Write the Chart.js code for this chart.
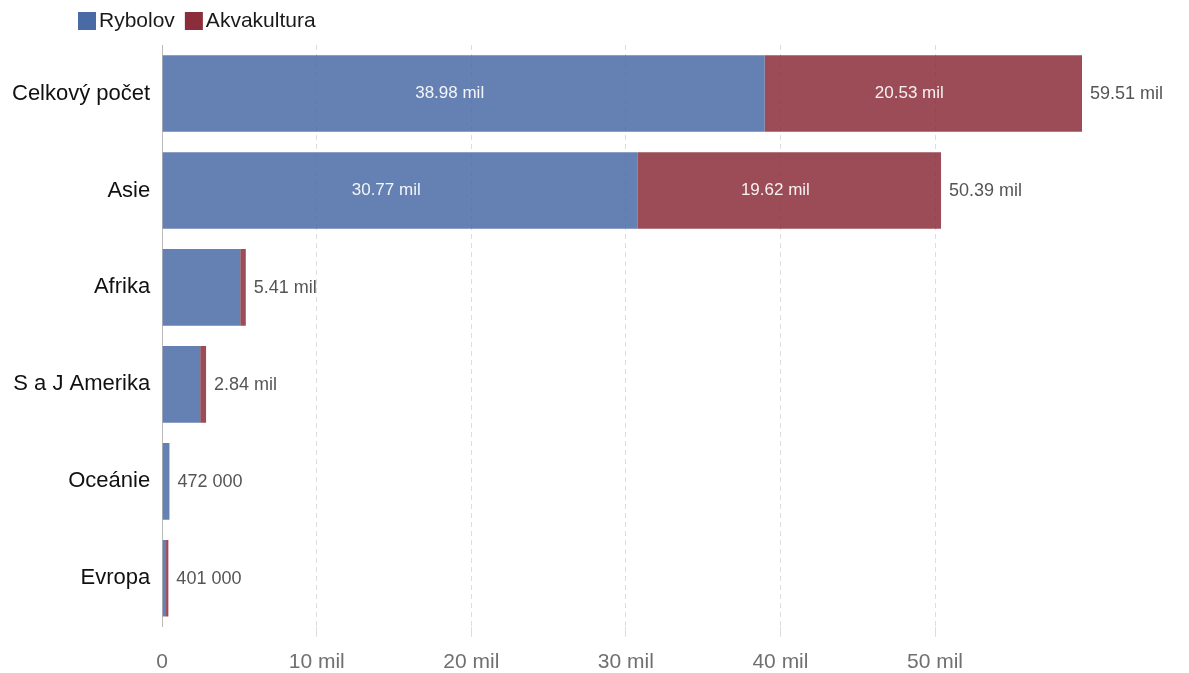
<!DOCTYPE html>
<html>
<head>
<meta charset="utf-8">
<script src="https://cdn.jsdelivr.net/npm/chart.js@4/dist/chart.umd.min.js"></script>
<style>
  html, body { margin: 0; padding: 0; background: #fff; }
  #wrap { width: 1189px; height: 673px; position: relative; }
</style>
</head>
<body>
<div id="wrap"><canvas id="chart"></canvas></div>
<script>
// data (millions)
const regions = ['Celkový počet', 'Asie', 'Afrika', 'S a J Amerika', 'Oceánie', 'Evropa'];
const rybolov = [38.98, 30.77, 5.05, 2.46, 0.462, 0.25];
const akvakultura = [20.53, 19.62, 0.36, 0.38, 0.010, 0.151];
const seriesNames = ['Rybolov', 'Akvakultura'];
const xTicks = [0, 10, 20, 30, 40, 50];

const solidColors = ['#4a6aa5', '#8b2d3a'];
const fillColors = ['rgba(74,106,165,0.85)', 'rgba(139,45,58,0.85)'];
const FONT = 'Arial, "Liberation Sans", Helvetica, sans-serif';

const totals = regions.map((_, i) => Math.round((rybolov[i] + akvakultura[i]) * 1000) / 1000);

function fmt(v) {
  if (v >= 1) return (Math.round(v * 100) / 100).toFixed(2) + ' mil';
  return Math.round(v * 1000) + ' 000';
}

// value labels: totals at bar end, inner values on wide segments
const valueLabels = {
  id: 'valueLabels',
  afterDatasetsDraw(chart) {
    const ctx = chart.ctx;
    const metaA = chart.getDatasetMeta(0);
    const metaB = chart.getDatasetMeta(1);
    ctx.save();
    ctx.textBaseline = 'middle';
    regions.forEach((_, i) => {
      const a = metaA.data[i], b = metaB.data[i];
      [[a, rybolov[i]], [b, akvakultura[i]]].forEach(([el, v]) => {
        const w = Math.abs(el.x - el.base);
        if (w > 120) {
          ctx.font = '17px ' + FONT;
          ctx.fillStyle = 'rgba(255,255,255,0.92)';
          ctx.textAlign = 'center';
          ctx.fillText(fmt(v), (el.x + el.base) / 2 - 14, el.y);
        }
      });
      ctx.font = '18px ' + FONT;
      ctx.fillStyle = '#555555';
      ctx.textAlign = 'left';
      ctx.fillText(fmt(totals[i]), Math.max(a.x, b.x) + 8, b.y + 1);
    });
    ctx.restore();
  }
};

// simple legend at the top left (tight box/text gap like the source)
const topLegend = {
  id: 'topLegend',
  afterDraw(chart) {
    const ctx = chart.ctx;
    ctx.save();
    ctx.font = '21px ' + FONT;
    ctx.textBaseline = 'middle';
    ctx.textAlign = 'left';
    let x = 78;
    const y = 21;
    seriesNames.forEach((name, k) => {
      ctx.fillStyle = solidColors[k];
      ctx.fillRect(x, y - 9, 18, 18);
      x += 18 + 3;
      ctx.fillStyle = '#1a1a1a';
      ctx.fillText(name, x, y);
      x += ctx.measureText(name).width + 10;
    });
    ctx.restore();
  }
};

new Chart(document.getElementById('chart'), {
  type: 'bar',
  data: {
    labels: regions,
    datasets: seriesNames.map((name, k) => ({
      label: name,
      data: k === 0 ? rybolov : akvakultura,
      backgroundColor: fillColors[k],
      borderWidth: 0
    }))
  },
  options: {
    indexAxis: 'y',
    responsive: true,
    maintainAspectRatio: false,
    animation: false,
    layout: { padding: { left: 0, right: 107, top: 45, bottom: -15 } },
    datasets: { bar: { barPercentage: 0.79, categoryPercentage: 1.0 } },
    plugins: {
      legend: { display: false },
      tooltip: { enabled: false }
    },
    scales: {
      x: {
        stacked: true,
        min: 0,
        max: Math.max(...totals),
        afterBuildTicks(axis) { axis.ticks = xTicks.map(v => ({ value: v })); },
        grid: {
          color: (c) => (c.tick && c.tick.value === 0) ? 'rgba(0,0,0,0)' : '#dddddd',
          tickLength: 10,
          lineWidth: 1
        },
        border: { display: false, dash: [5, 4] },
        ticks: {
          color: '#707070',
          font: { family: FONT, size: 21 },
          padding: 13,
          callback: (v) => v === 0 ? '0' : v + ' mil'
        }
      },
      y: {
        stacked: true,
        grid: { display: false, drawTicks: false },
        border: { display: true, color: '#bbbbbb', width: 1 },
        ticks: {
          color: '#111',
          font: { family: FONT, size: 22 },
          padding: 12
        }
      }
    }
  },
  plugins: [valueLabels, topLegend]
});
</script>
</body>
</html>
